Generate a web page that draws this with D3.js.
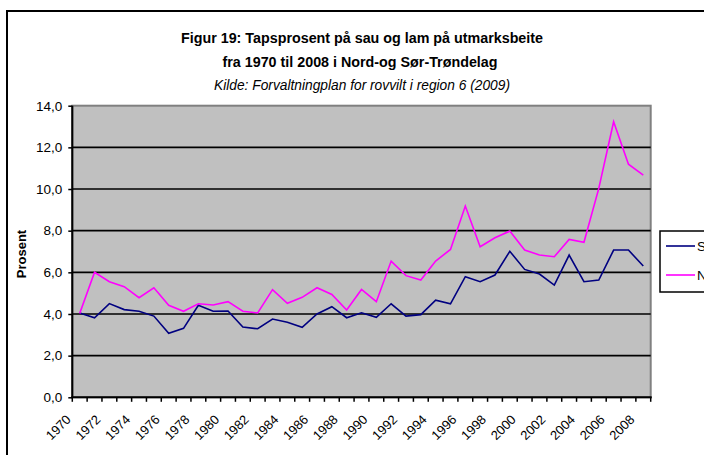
<!DOCTYPE html>
<html>
<head>
<meta charset="utf-8">
<script src="https://cdn.jsdelivr.net/npm/d3@7"></script>
<style>
  body { margin: 0; background: #fff; overflow: hidden; }
  svg { display: block; font-family: "Liberation Sans", Arial, sans-serif; }
</style>
</head>
<body>
<div id="chart"></div>
<script>
var years = [1970, 1971, 1972, 1973, 1974, 1975, 1976, 1977, 1978, 1979,
             1980, 1981, 1982, 1983, 1984, 1985, 1986, 1987, 1988, 1989,
             1990, 1991, 1992, 1993, 1994, 1995, 1996, 1997, 1998, 1999,
             2000, 2001, 2002, 2003, 2004, 2005, 2006, 2007, 2008];

// Sør-Trøndelag (dark blue)
var sor = [4.05, 3.82, 4.50, 4.21, 4.13, 3.90, 3.07, 3.31, 4.42, 4.13,
           4.14, 3.37, 3.29, 3.76, 3.60, 3.36, 4.00, 4.35, 3.82, 4.06,
           3.84, 4.49, 3.90, 3.97, 4.66, 4.49, 5.79, 5.55, 5.87, 7.01,
           6.14, 5.92, 5.39, 6.83, 5.55, 5.63, 7.07, 7.07, 6.30];

// Nord-Trøndelag (magenta)
var nord = [4.03, 6.00, 5.55, 5.31, 4.78, 5.26, 4.42, 4.13, 4.49, 4.43,
            4.59, 4.13, 4.05, 5.17, 4.51, 4.80, 5.26, 4.94, 4.19, 5.18,
            4.59, 6.54, 5.84, 5.63, 6.54, 7.10, 9.18, 7.23, 7.66, 7.98,
            7.07, 6.83, 6.75, 7.58, 7.44, 10.03, 13.23, 11.19, 10.67];

var seriesNames = ["Sør-Trøndelag", "Nord-Trøndelag"];
var yTicks = [0, 2, 4, 6, 8, 10, 12, 14];
var labelYears = years.filter(function(d) { return d % 2 === 0; });

var titleLines = [
  "Figur 19: Tapsprosent på sau og lam på utmarksbeite",
  "fra 1970 til 2008 i Nord-og Sør-Trøndelag",
  "Kilde: Forvaltningplan for rovvilt i region 6 (2009)"
];

var w = 704, h = 455;
var pLeft = 72.3, pRight = 650.7, pTop = 105.7, pBottom = 397.3;

var svg = d3.select("#chart").append("svg")
  .attr("width", w)
  .attr("height", h);

// outer chart frame (runs off the right and bottom)
svg.append("rect")
  .attr("x", 7).attr("y", 11)
  .attr("width", 760).attr("height", 500)
  .attr("fill", "none")
  .attr("stroke", "#000")
  .attr("stroke-width", 2);

var x = d3.scaleBand().domain(years).range([pLeft, pRight]).padding(0);
var y = d3.scaleLinear().domain([0, 14]).range([pBottom, pTop]);

var nb = d3.formatLocale({decimal: ",", thousands: " ", grouping: [3], currency: ["", ""]});
var fmt = nb.format(".1f");

// plot area
svg.append("rect")
  .attr("x", pLeft).attr("y", pTop)
  .attr("width", pRight - pLeft).attr("height", pBottom - pTop)
  .attr("fill", "#c0c0c0")
  .attr("stroke", "#808080")
  .attr("stroke-width", 2);

// gridlines
svg.append("g").selectAll("line")
  .data(yTicks.filter(function(d) { return d > 0 && d < 14; }))
  .enter().append("line")
  .attr("x1", pLeft).attr("x2", pRight)
  .attr("y1", function(d) { return y(d); })
  .attr("y2", function(d) { return y(d); })
  .attr("stroke", "#000")
  .attr("stroke-width", 1.6);

// y axis
var yAxis = d3.axisLeft(y).tickValues(yTicks).tickFormat(fmt).tickSize(4).tickPadding(6);
var gy = svg.append("g").attr("transform", "translate(" + pLeft + ",0)").call(yAxis);
gy.select(".domain").attr("stroke", "#000").attr("stroke-width", 2).attr("d", "M0," + pTop + "V" + pBottom);
gy.selectAll(".tick line").attr("stroke", "#000").attr("stroke-width", 1.5);
gy.selectAll(".tick text")
  .attr("fill", "#000")
  .style("font-size", "13.5px")
  .style("font-family", "'Liberation Sans', Arial, sans-serif");

// x axis line and ticks at category boundaries
svg.append("line")
  .attr("x1", pLeft - 1).attr("x2", pRight + 1)
  .attr("y1", pBottom).attr("y2", pBottom)
  .attr("stroke", "#000").attr("stroke-width", 2);

var bounds = years.map(function(d) { return x(d); }).concat([pRight]);
svg.append("g").selectAll("line")
  .data(bounds)
  .enter().append("line")
  .attr("x1", function(d) { return d; })
  .attr("x2", function(d) { return d; })
  .attr("y1", pBottom).attr("y2", pBottom + 4.5)
  .attr("stroke", "#000").attr("stroke-width", 1.5);

svg.append("g").selectAll("text")
  .data(labelYears)
  .enter().append("text")
  .attr("transform", function(d) {
    return "translate(" + (x(d) + x.bandwidth() / 2 - 8) + "," + (pBottom + 23) + ") rotate(-45)";
  })
  .attr("text-anchor", "end")
  .style("font-size", "13px")
  .text(function(d) { return d; });

// y axis title
svg.append("text")
  .attr("transform", "translate(26,254) rotate(-90)")
  .attr("text-anchor", "middle")
  .style("font-size", "13px")
  .style("font-weight", "bold")
  .text("Prosent");

// lines
var line = d3.line()
  .x(function(d, i) { return x(years[i]) + x.bandwidth() / 2; })
  .y(function(d) { return y(d); });

svg.append("path")
  .datum(sor)
  .attr("d", line)
  .attr("fill", "none")
  .attr("stroke", "#000080")
  .attr("stroke-width", 1.6);

svg.append("path")
  .datum(nord)
  .attr("d", line)
  .attr("fill", "none")
  .attr("stroke", "#ff00ff")
  .attr("stroke-width", 1.6);

// title
svg.append("text")
  .attr("x", 362).attr("y", 43)
  .attr("text-anchor", "middle")
  .attr("textLength", 362).attr("lengthAdjust", "spacingAndGlyphs")
  .style("font-size", "14.5px").style("font-weight", "bold")
  .text(titleLines[0]);
svg.append("text")
  .attr("x", 360).attr("y", 67)
  .attr("text-anchor", "middle")
  .attr("textLength", 275).attr("lengthAdjust", "spacingAndGlyphs")
  .style("font-size", "14.5px").style("font-weight", "bold")
  .text(titleLines[1]);
svg.append("text")
  .attr("x", 362).attr("y", 90)
  .attr("text-anchor", "middle")
  .attr("textLength", 296).attr("lengthAdjust", "spacingAndGlyphs")
  .style("font-size", "14px").style("font-style", "italic")
  .text(titleLines[2]);

// legend (runs off the right edge, as in the reference)
var lg = svg.append("g");
lg.append("rect")
  .attr("x", 660).attr("y", 231)
  .attr("width", 120).attr("height", 61)
  .attr("fill", "#fff")
  .attr("stroke", "#000").attr("stroke-width", 1.5);
var lgColors = ["#000080", "#ff00ff"];
var lgY = [246, 275];
seriesNames.forEach(function(name, i) {
  lg.append("line")
    .attr("x1", 666).attr("x2", 695)
    .attr("y1", lgY[i]).attr("y2", lgY[i])
    .attr("stroke", lgColors[i]).attr("stroke-width", 1.6);
  lg.append("text")
    .attr("x", 697).attr("y", lgY[i] + 5)
    .style("font-size", "13.5px")
    .text(name);
});
</script>
</body>
</html>
